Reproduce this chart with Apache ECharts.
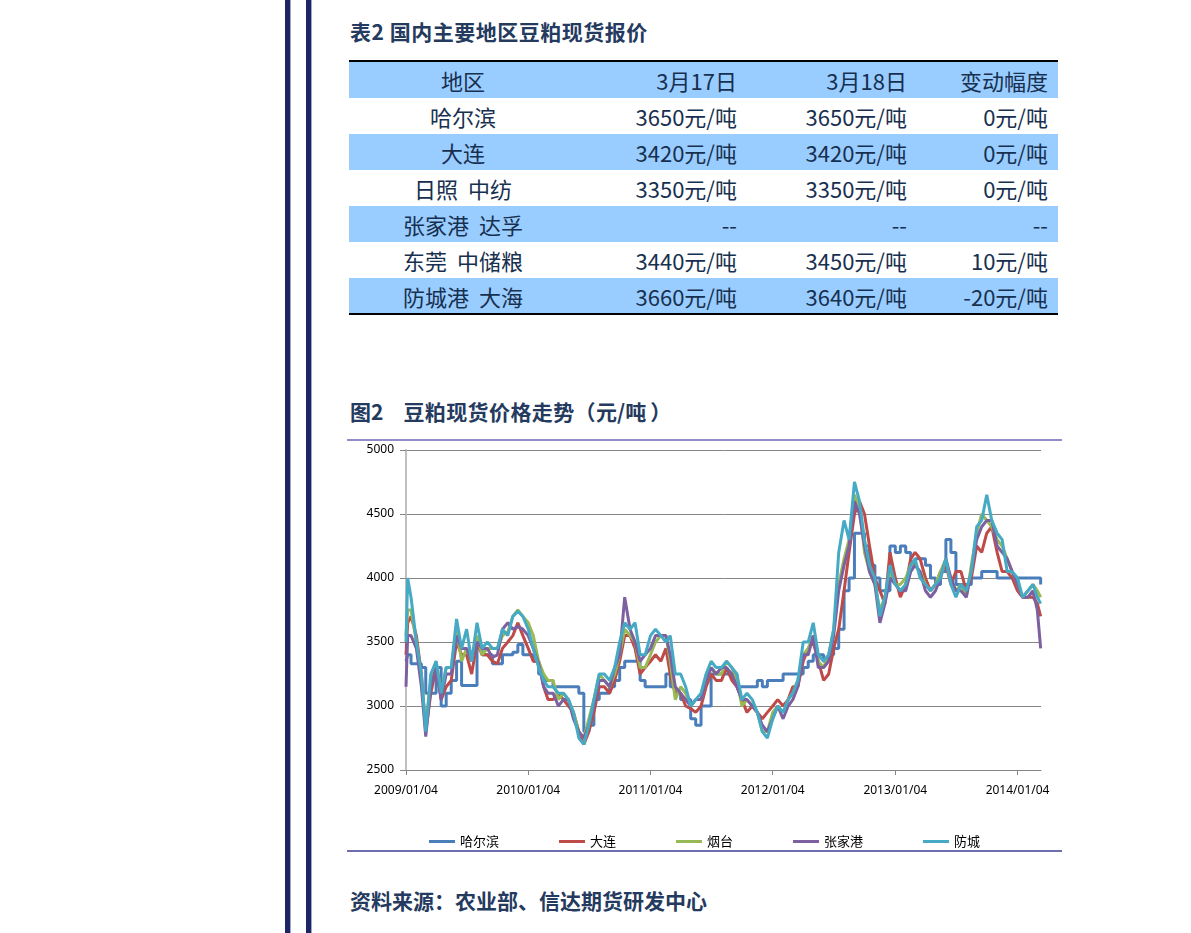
<!DOCTYPE html>
<html><head><meta charset="utf-8">
<script src="https://cdn.jsdelivr.net/npm/echarts@6/dist/echarts.min.js"></script>
<style>
html,body{margin:0;padding:0;background:#fff;width:1191px;height:933px;overflow:hidden;font-family:"Noto Sans CJK SC","Noto Sans",sans-serif;}
.vbar{position:absolute;top:0;width:5px;height:933px;background:#1d2566;border-right:1px solid #a3a7c8;}
.title{position:absolute;left:350px;font-weight:bold;font-size:21px;color:#243a5e;white-space:pre;line-height:24px;}
#tbl{position:absolute;left:349px;top:0;width:709px;height:320px;}
.row{position:absolute;left:0;width:709px;height:36px;}
.cell{position:absolute;top:0;height:36px;line-height:36px;font-size:22px;color:#17304f;white-space:pre;}
.hr{position:absolute;left:0;width:709px;height:2px;background:#000;}
#chart{position:absolute;left:347px;top:442px;width:715px;height:408px;}
.sep{position:absolute;left:347px;width:715px;height:2px;}
</style></head><body>
<div class="vbar" style="left:285px"></div>
<div class="vbar" style="left:306px"></div>
<div class="title" style="top:19px;letter-spacing:0.5px">表2 国内主要地区豆粕现货报价</div>
<div id="tbl"></div>
<div class="title" style="top:399px"><span>图2</span><span style="margin-left:20px;letter-spacing:0.4px">豆粕现货价格走势（</span><span>元/吨</span><span style="margin-left:4px">）</span></div>
<div class="sep" style="top:439px;background:#8f8cc8"></div>
<div id="chart"></div>
<div class="sep" style="top:850px;background:#6d6db0"></div>
<div class="title" style="top:888px">资料来源：农业部、信达期货研发中心</div>
<script>
// ---- table data ----
const tableHeader = ['地区', '3月17日', '3月18日', '变动幅度'];
const regions = ['哈尔滨', '大连', '日照  中纺', '张家港  达孚', '东莞  中储粮', '防城港  大海'];
const priceMar17 = [3650, 3420, 3350, null, 3440, 3660];
const priceMar18 = [3650, 3420, 3350, null, 3450, 3640];
const priceChange = [0, 0, 0, null, 10, -20];

// ---- chart data ----
const seriesNames = ['哈尔滨', '大连', '烟台', '张家港', '防城'];
const xTickLabels = ['2009/01/04', '2010/01/04', '2011/01/04', '2012/01/04', '2013/01/04', '2014/01/04'];
const dates = [
  '2009-01-04','2009-01-09','2009-01-19','2009-02-04','2009-02-19','2009-03-04','2009-03-19','2009-04-04','2009-04-19','2009-05-04','2009-05-19','2009-06-04','2009-06-19','2009-07-04','2009-07-19','2009-08-04','2009-08-19','2009-09-04','2009-09-19','2009-10-04','2009-10-19','2009-11-04','2009-11-19','2009-12-04','2009-12-19',
  '2010-01-04','2010-01-19','2010-02-04','2010-02-19','2010-03-04','2010-03-19','2010-04-04','2010-04-19','2010-05-04','2010-05-19','2010-06-04','2010-06-19','2010-07-04','2010-07-19','2010-08-04','2010-08-19','2010-09-04','2010-09-19','2010-10-04','2010-10-19','2010-11-04','2010-11-19','2010-12-04','2010-12-19',
  '2011-01-04','2011-01-19','2011-02-04','2011-02-19','2011-03-04','2011-03-19','2011-04-04','2011-04-19','2011-05-04','2011-05-19','2011-06-04','2011-06-19','2011-07-04','2011-07-19','2011-08-04','2011-08-19','2011-09-04','2011-09-19','2011-10-04','2011-10-19','2011-11-04','2011-11-19','2011-12-04','2011-12-19',
  '2012-01-04','2012-01-19','2012-02-04','2012-02-19','2012-03-04','2012-03-19','2012-04-04','2012-04-19','2012-05-04','2012-05-19','2012-06-04','2012-06-19','2012-07-04','2012-07-19','2012-08-04','2012-08-19','2012-09-04','2012-09-19','2012-10-04','2012-10-19','2012-11-04','2012-11-19','2012-12-04','2012-12-19',
  '2013-01-04','2013-01-19','2013-02-04','2013-02-19','2013-03-04','2013-03-19','2013-04-04','2013-04-19','2013-05-04','2013-05-19','2013-06-04','2013-06-19','2013-07-04','2013-07-19','2013-08-04','2013-08-19','2013-09-04','2013-09-19','2013-10-04','2013-10-19','2013-11-04','2013-11-19','2013-12-04','2013-12-19',
  '2014-01-04','2014-01-19','2014-02-04','2014-02-19','2014-03-04','2014-03-14'
];
const harbin = [
  3350,3400,3330,3330,3300,3100,3100,3300,3000,3100,3200,3350,3160,3160,3160,3450,3400,3400,3330,3330,3400,3400,3420,3480,3400,
  3400,3350,3250,3200,3200,3150,3150,3150,3150,3150,3100,2800,2850,3050,3100,3100,3150,3200,3300,3350,3350,3350,3200,3150,
  3150,3150,3150,3250,3150,3100,3050,3050,2900,2850,3000,3000,3250,3250,3250,3250,3250,3150,3150,3150,3150,3200,3150,3200,
  3200,3200,3250,3250,3250,3250,3300,3350,3400,3400,3350,3400,3450,3600,3900,4000,4350,4350,4250,4100,4000,3900,3900,4250,
  4200,4250,4200,4100,4150,4150,4100,4000,3950,4050,4300,4200,3950,3950,3950,4000,4000,4050,4050,4050,4000,4000,4000,4000,
  4000,4000,4000,4000,4000,3950
];
const dalian = [
  3400,3650,3700,3550,3250,2800,3100,3300,3050,3150,3200,3500,3400,3400,3250,3500,3400,3400,3350,3330,3450,3500,3550,3650,3550,
  3450,3350,3350,3150,3050,3050,3100,3050,3000,2950,2800,2700,2800,2950,3150,3150,3100,3200,3350,3550,3550,3450,3250,3300,
  3350,3400,3350,3450,3250,3100,3100,3000,2980,2950,3000,3150,3250,3200,3200,3300,3200,3150,3050,2950,3000,2950,2900,2950,
  3000,3050,3000,3050,3150,3150,3350,3450,3500,3350,3200,3250,3450,3600,3900,4200,4500,4600,4500,4250,4000,3900,3800,4200,
  4000,3850,3950,4150,4200,4150,4000,3900,3950,4050,4100,3950,4050,4050,3900,4000,4250,4200,4350,4400,4200,4050,4050,4000,
  3900,3850,3850,3850,3800,3700
];
const yantai = [
  3550,3750,3750,3500,3200,2850,3200,3350,3100,3300,3300,3600,3350,3450,3350,3550,3400,3450,3450,3450,3550,3580,3700,3750,3700,
  3650,3550,3350,3250,3200,3200,3050,3100,3050,2950,2800,2750,2900,3050,3250,3200,3150,3250,3400,3600,3550,3500,3300,3300,
  3400,3500,3550,3550,3350,3050,3150,3100,3000,3050,3050,3200,3300,3250,3250,3350,3300,3200,3000,3050,3000,2950,2800,2800,
  2950,3000,2950,3050,3100,3200,3400,3450,3550,3350,3300,3400,3600,3950,4150,4300,4650,4550,4200,4050,3950,3750,3850,4050,
  3950,3950,4000,4100,4100,4050,3950,3900,3950,4050,4150,3950,3900,3950,3850,4100,4350,4500,4450,4400,4300,4250,4150,4050,
  3950,3850,3900,3950,3900,3850
];
const zhangjiagang = [
  3150,3550,3550,3450,3150,2760,3150,3300,3050,3250,3250,3550,3450,3450,3350,3500,3450,3450,3380,3400,3600,3650,3600,3620,3600,
  3550,3450,3330,3150,3100,3100,3000,3050,3050,2900,2800,2750,2850,3000,3200,3200,3150,3300,3400,3850,3600,3500,3350,3400,
  3450,3550,3550,3550,3400,3150,3100,3050,3000,3050,3050,3200,3300,3250,3300,3300,3250,3150,3050,3050,3000,2950,2850,2800,
  2900,3000,2900,3000,3050,3150,3400,3400,3550,3300,3300,3350,3550,3900,4100,4250,4600,4500,4250,4050,3950,3650,3800,4000,
  3950,3900,3900,4050,4100,4050,3900,3850,3900,4000,4150,4000,3900,3900,3850,4050,4300,4400,4450,4450,4250,4200,4150,4050,
  3950,3850,3850,3900,3750,3450
];
const fangcheng = [
  3500,4000,3850,3500,3250,2800,3250,3350,3100,3300,3300,3680,3450,3600,3350,3650,3450,3500,3450,3450,3600,3550,3700,3740,3700,
  3600,3450,3300,3200,3150,3150,3100,3100,3050,2950,2750,2700,2850,3050,3250,3250,3200,3300,3500,3650,3600,3650,3400,3400,
  3550,3600,3550,3500,3550,3250,3250,3150,3000,3050,3100,3250,3350,3300,3300,3350,3300,3250,3050,3100,3050,2950,2800,2750,
  2900,3000,2950,3050,3100,3200,3500,3500,3650,3400,3350,3400,3600,4200,4450,4300,4750,4600,4300,4100,4000,3700,3850,4100,
  3950,3900,3950,4100,4150,4000,3950,3900,3950,4000,4150,3950,3850,3950,3900,4050,4400,4450,4650,4450,4350,4300,4050,4050,
  4000,3850,3900,3950,3850,3800
];
const seriesColors = ['#4A7EBB', '#BE4B48', '#98B954', '#7D60A0', '#46AAC5'];

// ---- build table ----
const tbl = document.getElementById('tbl');
const cols = [
  {left: 0, width: 228, align: 'center'},
  {left: 228, width: 160, align: 'right'},
  {left: 388, width: 170, align: 'right'},
  {left: 558, width: 141, align: 'right'}
];
const fmt = v => v === null ? '--' : v + '元/吨';
const rows = [tableHeader].concat(regions.map((r, i) => [r, fmt(priceMar17[i]), fmt(priceMar18[i]), fmt(priceChange[i])]));
rows.forEach((cells, i) => {
  const row = document.createElement('div');
  row.className = 'row';
  row.style.top = (62 + 36 * i) + 'px';
  if (i % 2 === 0) row.style.background = '#99CCFF';
  cells.forEach((t, j) => {
    const c = document.createElement('div');
    c.className = 'cell';
    c.style.left = cols[j].left + 'px';
    c.style.width = cols[j].width + 'px';
    c.style.textAlign = cols[j].align;
    c.textContent = t;
    row.appendChild(c);
  });
  tbl.appendChild(row);
});
const top1 = document.createElement('div'); top1.className = 'hr'; top1.style.top = '60px'; tbl.appendChild(top1);
const bot1 = document.createElement('div'); bot1.className = 'hr'; bot1.style.top = '313px'; tbl.appendChild(bot1);

// ---- build chart ----
const base = Date.UTC(2009, 0, 4);
const toDay = s => Math.round((Date.parse(s.replace(/\//g, '-') + 'T00:00:00Z') - base) / 86400000);
const days = dates.map(toDay);
const tickDays = xTickLabels.map(toDay);
const valueSets = [harbin, dalian, yantai, zhangjiagang, fangcheng];

const chart = echarts.init(document.getElementById('chart'));
chart.setOption({
  animation: false,
  grid: {left: 59, top: 8, width: 635, height: 320},
  legend: {
    left: 77, top: 388, itemGap: 60, itemWidth: 26, itemHeight: 3, icon: 'rect',
    textStyle: {fontSize: 13, color: '#000', fontFamily: 'Noto Sans CJK SC'},
    data: seriesNames
  },
  xAxis: {
    type: 'value', min: 0, max: 1896,
    axisLine: {lineStyle: {color: '#868686', width: 1}},
    axisTick: {show: true, length: 5, customValues: tickDays, lineStyle: {color: '#868686'}},
    axisLabel: {customValues: tickDays, formatter: v => xTickLabels[tickDays.indexOf(v)] || '', fontSize: 12, color: '#000', margin: 15, fontFamily: 'Noto Sans'},
    splitLine: {show: false}
  },
  yAxis: {
    type: 'value', min: 2500, max: 5000, interval: 500,
    axisLine: {show: true, lineStyle: {color: '#BFBFBF', width: 2}},
    axisTick: {show: true, length: 6, lineStyle: {color: '#868686'}},
    axisLabel: {fontSize: 12, color: '#000', margin: 12, fontFamily: 'Noto Sans', formatter: v => String(v)},
    splitLine: {lineStyle: {color: '#868686', width: 1}}
  },
  series: seriesNames.map((n, k) => ({
    name: n, type: 'line', symbol: 'none', showSymbol: false,
    step: k === 0 ? 'end' : false,
    data: days.map((d, i) => [d, valueSets[k][i]]),
    lineStyle: {width: 3, color: seriesColors[k]},
    itemStyle: {color: seriesColors[k]}
  }))
});
</script>
</body></html>
